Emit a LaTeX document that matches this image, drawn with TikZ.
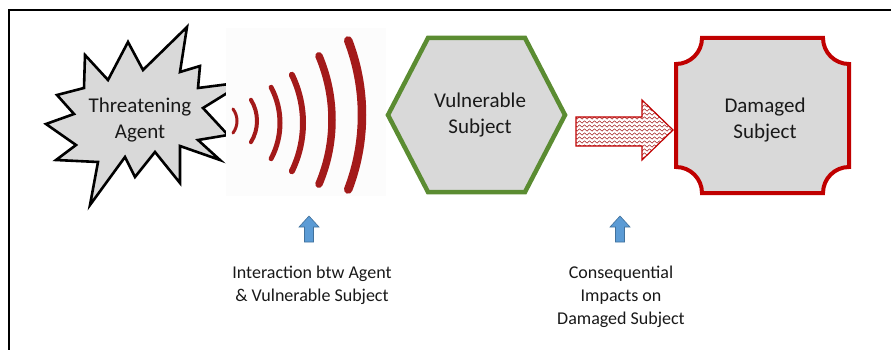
\documentclass[tikz,border=0pt]{standalone}
\usepackage{fontspec}
\setmainfont{Carlito}
\usetikzlibrary{decorations.pathmorphing}
\definecolor{shapegray}{HTML}{D9D9D9}
\definecolor{wavered}{HTML}{A31A1A}
\definecolor{dmgred}{HTML}{C00000}
\definecolor{hexgreen}{HTML}{5B8C32}
\definecolor{arrowblue}{HTML}{5B9BD5}
\definecolor{arrowblueedge}{HTML}{41719C}
\newcommand\wavearc[5]{\draw[wave, line width=#5pt] ([shift={(#1-#3,-#2)}]-#4:#3pt) arc[start angle=-#4, end angle=#4, radius=#3pt];}
\newcommand\bluearrow[1]{\draw[uparrow, shift={#1}] (0,0) -- (10,-11) -- (4.5,-11) -- (4.5,-26) -- (-4.5,-26) -- (-4.5,-11) -- (-10,-11) -- cycle;}
\begin{document}
\begin{tikzpicture}[x=1pt,y=1pt,
  lbl/.style={font=\fontsize{21}{26}\selectfont, align=center, text=black!90},
  note/.style={font=\fontsize{18}{23}\selectfont, align=center, text=black!90},
  uparrow/.style={fill=arrowblue, draw=arrowblueedge, line width=0.6pt, line join=miter},
  wave/.style={wavered, line cap=round}]
\useasboundingbox (0,0) rectangle (891,-350);
\fill[white] (0,0) rectangle (891,-350);
\draw[line width=2.5pt] (9,-350) -- (9,-10) -- (891,-10);

% starburst
\draw[fill=shapegray, line width=2.6pt, line join=miter]
  (85,-55) -- (108,-80) -- (128,-42) -- (143,-70) -- (187,-27) -- (180,-72)
  -- (200,-66) -- (198,-88) -- (245,-82) -- (203,-108) -- (228,-135) -- (198,-140)
  -- (220,-160) -- (180,-146) -- (180,-183) -- (155,-152) -- (135,-177) -- (125,-157)
  -- (90,-205) -- (98,-162) -- (56,-160) -- (76,-145) -- (46,-124) -- (74,-114)
  -- (57,-95) -- (84,-88) -- cycle;
\node[lbl] (agent) at (140,-120) {Threatening\\Agent};

% waves
\fill[black!1] (226,-28) rectangle (386,-196);
\wavearc{237}{121}{20}{37}{3}
\wavearc{257}{121}{40}{32}{4}
\wavearc{280}{123}{76}{28}{5}
\wavearc{303}{123}{110}{26}{6}
\wavearc{332}{120}{164}{23}{7.5}
\wavearc{362}{115}{208}{21}{8.5}

% hexagon
\draw[hexgreen, fill=shapegray, line width=4.5pt, line join=miter]
  (388,-115) -- (428,-38) -- (525,-38) -- (565,-115) -- (525,-192) -- (428,-192) -- cycle;
\node[lbl] (vuln) at (480,-115) {Vulnerable\\Subject};

% striped arrow
\begin{scope}
\clip (576,-117) -- (642,-117) -- (642,-100) -- (673,-130) -- (642,-160) -- (642,-146) -- (576,-146) -- cycle;
\fill[white] (570,-95) rectangle (680,-165);
\foreach \yy in {98,102,...,162}
  \draw[wavered, line width=0.5pt, decorate, decoration={snake, amplitude=1.2pt, segment length=5pt}] (568,-\yy) -- (682,-\yy);
\end{scope}
\draw[dmgred, line width=1.2pt, line join=miter]
  (576,-117) -- (642,-117) -- (642,-100) -- (673,-130) -- (642,-160) -- (642,-146) -- (576,-146) -- cycle;

% plaque
\draw[dmgred, fill=shapegray, line width=4pt]
  (702,-38) -- (823,-38) arc[start angle=180, end angle=270, radius=26pt]
  -- (849,-167) arc[start angle=90, end angle=180, radius=26pt]
  -- (702,-193) arc[start angle=0, end angle=90, radius=26pt]
  -- (676,-64) arc[start angle=270, end angle=360, radius=26pt] -- cycle;
\node[lbl] (dmg) at (765,-120) {Damaged\\Subject};

% blue arrows and notes
\bluearrow{(309,-216)}
\bluearrow{(620,-216)}
\node[note] (inter) at (312,-285) {Interaction btw Agent\\\& Vulnerable Subject};
\node[note] (cons) at (621,-297) {Consequential\\Impacts on\\Damaged Subject};
\end{tikzpicture}
\end{document}
